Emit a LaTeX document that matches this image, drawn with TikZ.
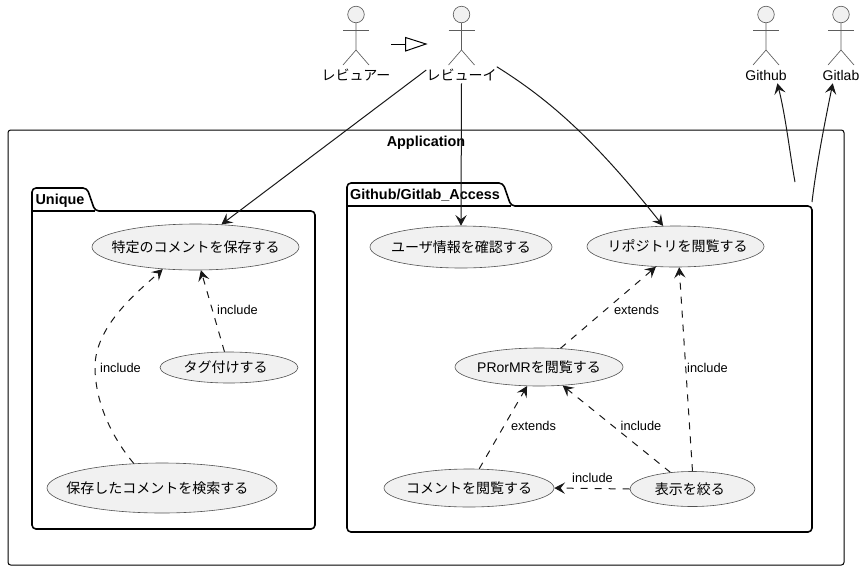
\documentclass[tikz,border=0pt]{standalone}
\usepackage{fontspec}
\setmainfont{Liberation Sans}
\newfontfamily\cjk{Noto Sans CJK JP}
\usetikzlibrary{arrows.meta,shapes.geometric}
\definecolor{ucfill}{HTML}{F1F1F1}
\definecolor{ink}{HTML}{181818}
\newcommand{\uc}[2][0pt]{\smash{\makebox[0pt]{\kern#1\raisebox{-.38em}{#2}}}}
\tikzset{
  usecase/.style 2 args={draw=ink!75, line width=.45pt, fill=ucfill, ellipse, inner sep=0pt,
    minimum width=#1*.75pt, minimum height=#2*.75pt, font=\fontsize{10.5}{12}\selectfont},
  head/.style={draw=ink!70, line width=.5pt, fill=ucfill, circle, inner sep=0pt, minimum size=12.4pt},
  limb/.style={draw=ink!70, line width=.5pt},
  actorlabel/.style={inner sep=0pt, minimum height=12pt, font=\fontsize{10.5}{12}\selectfont},
  pkg/.style={draw=black, line width=1.2pt, line join=round},
  pkglabel/.style={inner sep=0pt, font=\fontsize{10.8}{12}\selectfont\bfseries},
  edgelabel/.style={inner sep=0pt, font=\fontsize{9.6}{11}\selectfont},
  assoc/.style={draw=ink, line width=.75pt, ->},
  dep/.style={draw=ink, line width=.75pt, ->, dash pattern=on 5.25pt off 5.25pt}
}
\begin{document}
\begin{tikzpicture}[x=.75pt,y=-.75pt,>={Stealth[length=8pt,width=8.5pt,inset=3.2pt]}]
\useasboundingbox (0,0) rectangle (865,569);

% application frame
\draw[draw=black, line width=.75pt, rounded corners=2pt] (8,130) rectangle (844,565);
\node(App)[pkglabel] at (426,142.5) {Application};

% packages
\draw[pkg, rounded corners=3pt] (32,211) -- (32,188) -- (87,188) -- (95,211) -- (315,211) -- (315,529) -- (32,529) -- cycle;
\draw[pkg] (32,211) -- (95,211);
\node(Uni)[pkglabel] at (60,200.5) {Unique};
\draw[pkg, rounded corners=3pt] (347,206) -- (347,183) -- (503,183) -- (511,206) -- (812,206) -- (812,532) -- (347,532) -- cycle;
\draw[pkg] (347,206) -- (511,206);
\node(Acc)[pkglabel] at (425,195.5) {Github/Gitlab\_Access};

% actors
\foreach \name/\x/\txt in {Rev/356/{\cjk レビュアー}, Ree/461.5/{\cjk レビューイ}, Hub/766/Github, Lab/841/Gitlab}{
  \node(H\name)[head] at (\x,14.5) {};
  \draw[limb] (H\name.south) -- (\x,50) -- ({\x-13},65);
  \draw[limb] (\x,50) -- ({\x+13},65);
  \draw[limb] ({\x-13},30) -- ({\x+13},30);
  \node(L\name)[actorlabel] at (\x,75) {\txt};
}

% use cases
\node(Keep)[usecase={207}{46}] at (195.5,247) {\uc{\cjk 特定のコメントを保存する}};
\node(Tag)[usecase={138}{31}] at (229,367.5) {\uc[-5pt]{\cjk タグ付けする}};
\node(Find)[usecase={230}{50}] at (162,488) {\uc[-7pt]{\cjk 保存したコメントを検索する}};
\node(User)[usecase={182}{42}] at (461,247) {\uc{\cjk ユーザ情報を確認する}};
\node(Repo)[usecase={177}{41}] at (675.5,246.5) {\uc[3pt]{\cjk リポジトリを閲覧する}};
\node(PR)[usecase={168}{38}] at (539,367) {\uc{PRorMR{\cjk を閲覧する}}};
\node(Com)[usecase={170}{38}] at (469,488) {\uc{\cjk コメントを閲覧する}};
\node(Fil)[usecase={125}{35}] at (692.5,489) {\uc[-4pt]{\cjk 表示を絞る}};

% generalization between actors
\coordinate(GenA) at (391,44);
\coordinate(GenB) at (405.5,44);
\draw[draw=black, line width=.75pt] (GenA) -- (GenB);
\draw[draw=black, line width=.75pt, line join=miter] (405.5,37.5) -- (426,44) -- (405.5,51) -- cycle;

% actor links
\draw[assoc] (LRee.172) -- (Keep.41);
\draw[assoc] (LRee.south) -- (User.north);
\draw[assoc] (LRee.north east) .. controls (550,100) and (595,140) .. (Repo.121.6);
\coordinate(HubEnd) at (795,182);
\coordinate(LabEnd) at (812,202);
\draw[assoc] (HubEnd) .. controls (790,155) and (786,118) .. (LHub.-36);
\draw[assoc] (LabEnd) .. controls (817,160) and (827,112) .. (LLab.-135);

% include / extends
\draw[dep] (Find.139) .. controls (110,435) and (95,400) .. (95,367) .. controls (95,325) and (140,290) .. (Keep.-146);
\draw[dep] (Tag.106) -- (Keep.-77);
\draw[dep] (PR.41) -- (Repo.-134.3);
\draw[dep] (Fil.90) -- (Repo.-80);
\draw[dep] (Fil.143) -- (PR.-38.5);
\draw[dep] (Com.62) -- (PR.-122);
\draw[dep] (Fil.west) -- (Com.east);

\node(I1)[edgelabel] at (120.5,368) {include};
\node(I2)[edgelabel] at (237.5,310) {include};
\node(E1)[edgelabel] at (636.5,310) {extends};
\node(I3)[edgelabel] at (707.5,368) {include};
\node(I4)[edgelabel] at (641,426) {include};
\node(E2)[edgelabel] at (533.5,426) {extends};
\node(I5)[edgelabel] at (592.5,478) {include};
\end{tikzpicture}
\end{document}
